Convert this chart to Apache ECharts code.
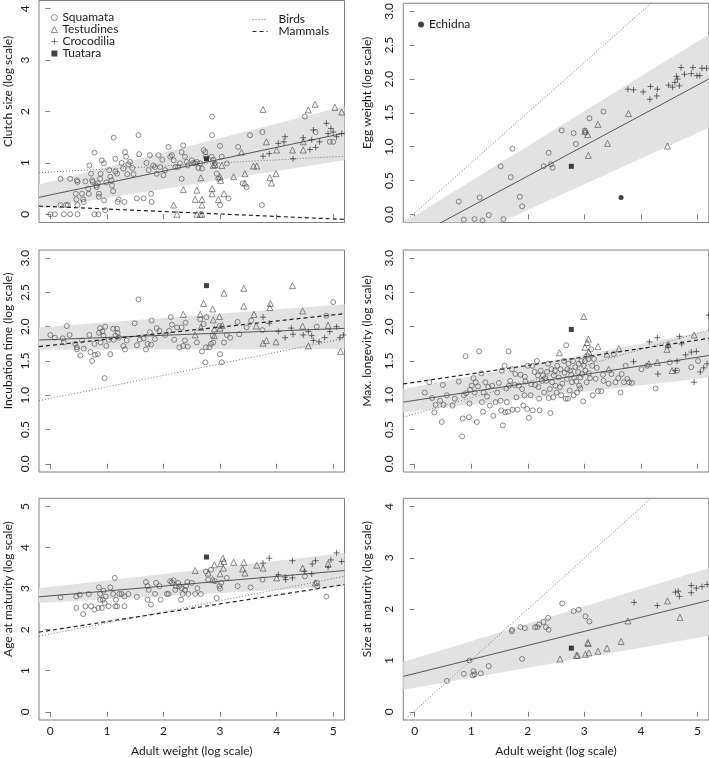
<!DOCTYPE html>
<html>
<head>
<meta charset="utf-8">
<script src="https://cdn.jsdelivr.net/npm/echarts@6/dist/echarts.min.js"></script>
<style>
  html, body { margin: 0; padding: 0; background: #fff; }
  #chart { width: 709px; height: 758px; }
</style>
</head>
<body>
<div id="chart"></div>
<script>
// shared x axis (adult weight, log scale)
const xRange = [-0.2, 5.2];
const xTicks = [0, 1, 2, 3, 4, 5];

// ---- Clutch size ----
const clutchSquamata = [
  [0.0,0.0],[0.08,0.0],[0.18,0.69],[0.18,0.18],[0.24,0.0],[0.28,0.18],[0.31,0.18],[0.35,0.69],[0.35,0.0],
  [0.45,0.40],[0.46,0.29],[0.47,0.66],[0.48,0.63],[0.48,0.18],[0.48,0.0],[0.56,0.40],[0.58,0.29],[0.59,0.24],
  [0.67,0.50],[0.68,0.40],[0.69,0.95],[0.72,0.79],[0.74,0.66],[0.75,0.63],[0.78,1.20],[0.78,0.0],[0.85,0.0],
  [0.81,0.56],[0.82,0.53],[0.84,0.60],[0.86,0.40],[0.86,0.34],[0.88,0.69],[0.89,0.79],[0.91,1.05],[0.95,0.99],
  [0.95,0.27],[0.97,0.08],[1.04,0.86],[1.06,0.73],[1.08,0.66],[1.09,0.56],[1.11,0.45],[1.12,1.49],[1.15,1.08],
  [1.18,0.79],[1.19,0.24],[1.21,0.29],[1.29,0.89],[1.32,1.21],[1.34,1.12],[1.38,0.97],[1.41,1.02],[1.31,0.24],
  [1.26,1.00],[1.36,0.78],[1.45,0.90],[1.53,0.31],[1.56,1.54],[1.57,1.17],[1.65,0.31],[1.74,0.86],[1.76,1.15],
  [1.78,0.40],[1.79,0.24],[1.82,0.95],[1.85,0.92],[1.88,0.79],[1.91,1.15],[1.94,0.92],[2.0,0.76],[2.03,0.86],
  [1.70,1.00],[1.98,1.06],[2.09,1.31],[2.12,1.12],[2.15,1.15],[2.18,1.05],[2.21,0.92],[2.26,0.92],[2.29,0.99],
  [2.32,1.21],[2.35,1.34],[2.38,1.12],[2.41,1.02],[2.32,0.69],[2.50,1.05],[2.53,1.00],[2.56,0.99],[2.59,1.02],
  [2.65,0.99],[2.68,0.89],[2.71,1.25],[2.74,1.21],[2.75,1.12],[2.86,1.90],[2.86,1.54],[2.85,1.12],[2.88,1.06],
  [2.91,0.99],[2.94,0.79],[2.97,0.69],[3.0,1.33],[3.03,1.12],[3.0,0.18],[3.12,0.99],[3.15,0.31],[3.32,1.31],
  [3.47,0.53],[3.53,1.54],[3.75,1.60],[3.74,0.18],[4.50,1.90],[4.69,1.60],[4.94,1.41],[5.0,1.41],
  [0.62,0.64],[0.99,0.62],[1.15,0.83],[1.47,0.78],[2.43,0.95],[2.62,0.90],[3.40,0.60]
];
const clutchTestudines = [
  [2.18,0.18],[2.24,0.0],[2.35,0.48],[2.56,0.29],[2.59,0.47],[2.59,0.0],[2.66,0.71],[2.68,0.18],[2.68,0.29],
  [2.65,0.0],[2.68,0.0],[2.86,0.50],[2.86,0.40],[2.88,0.95],[2.91,0.97],[2.97,0.29],[3.0,0.73],[3.01,0.66],
  [3.07,0.40],[3.03,0.95],[3.24,0.73],[3.38,1.21],[3.44,0.79],[3.44,0.61],[3.59,0.94],[3.65,0.94],[3.76,2.04],
  [3.82,1.41],[3.88,0.71],[3.91,0.61],[3.99,0.79],[4.0,1.25],[4.28,1.25],[4.47,1.25],[4.47,1.41],[4.56,2.03],
  [4.68,2.14],[5.03,2.08],[5.15,1.99]
];
const clutchCrocodilia = [
  [3.76,1.13],[3.87,1.18],[4.03,1.38],[4.15,1.51],[4.13,1.41],[4.29,1.08],[4.47,1.49],[4.62,1.45],[4.59,1.26],
  [4.65,1.64],[4.69,1.30],[4.76,1.41],[4.88,1.77],[4.91,1.57],[4.96,1.67],[5.0,1.60],[5.06,1.51],[5.15,1.57]
];
const clutchTuatara = [[2.76,1.08]];
const clutchFit = [0.33, 1.58];          // y at xRange ends
const clutchBandLow = [0.11, 1.05];
const clutchBandHigh = [0.58, 2.10];
const clutchBirds = [0.81, 1.13];
const clutchMammals = [0.16, -0.10];

// ---- Egg weight ----
const eggSquamata = [
  [0.78,0.19],[0.87,-0.08],[1.06,-0.07],[1.15,0.25],[1.20,-0.09],[1.31,-0.01],[1.52,0.71],[1.57,-0.07],
  [1.70,0.55],[1.73,0.97],[1.86,0.26],[1.90,0.12],[2.28,0.71],[2.37,0.91],[2.41,0.74],[2.44,0.69],[2.60,1.24],
  [2.81,1.20],[2.85,1.04],[3.01,1.24],[3.02,1.21],[3.09,1.42],[3.34,1.52]
];
const eggTestudines = [[3.01,1.23],[3.06,1.18],[3.07,0.87],[3.24,1.33],[3.41,1.05],[3.78,1.49],[4.47,1.01]];
const eggCrocodilia = [
  [3.77,1.85],[3.87,1.84],[4.04,1.81],[4.17,1.89],[4.16,1.70],[4.29,1.85],[4.28,1.75],[4.49,1.91],[4.56,1.88],
  [4.60,1.95],[4.63,2.04],[4.65,2.00],[4.68,1.90],[4.71,2.17],[4.77,2.07],[4.89,2.08],[4.92,2.17],[4.99,2.05],
  [5.04,2.05],[5.08,2.16],[5.16,2.16]
];
const eggTuatara = [[2.77,0.71]];
const eggEchidna = [[3.65,0.25]];
const eggFit = [-0.42, 2.0];
const eggBandLow = [-0.77, 1.28];
const eggBandHigh = [-0.125, 2.66];
const eggBirds = [-0.13, 3.88];

// ---- Incubation time ----
const incubSquamata = [
  [0.0,1.88],[0.08,1.84],[0.22,1.83],[0.24,1.77],[0.29,2.01],[0.34,1.88],[0.44,1.75],[0.47,1.70],[0.47,1.67],
  [0.53,1.58],[0.56,1.80],[0.59,1.68],[0.69,1.88],[0.71,1.63],[0.74,1.50],[0.78,1.75],[0.79,1.59],[0.84,1.60],
  [0.86,1.91],[0.88,1.98],[0.89,1.77],[0.92,1.93],[0.94,1.87],[0.96,1.25],[0.97,2.0],[0.99,1.72],[1.03,1.81],
  [1.06,1.60],[1.11,1.97],[1.12,1.81],[1.15,1.87],[1.18,1.97],[1.19,1.91],[1.21,1.84],[1.29,1.72],[1.32,1.67],
  [1.35,1.80],[1.49,2.05],[1.53,1.73],[1.56,2.40],[1.58,1.81],[1.65,1.83],[1.69,1.67],[1.72,1.75],[1.76,1.92],
  [1.78,1.74],[1.79,2.09],[1.85,1.82],[1.88,1.98],[1.93,1.94],[2.03,1.88],[2.10,1.94],[2.13,2.14],[2.15,2.03],
  [2.19,1.81],[2.24,1.99],[2.28,1.70],[2.32,1.99],[2.35,1.72],[2.38,1.80],[2.39,2.06],[2.43,1.71],[2.59,1.77],
  [2.65,2.11],[2.68,1.64],[2.71,2.04],[2.74,1.48],[2.75,1.70],[2.76,2.14],[2.81,1.70],[2.84,1.75],[2.87,1.87],
  [2.88,1.77],[2.99,2.01],[3.0,1.60],[3.03,1.48],[3.07,1.77],[3.12,1.88],[3.18,1.84],[3.31,2.07],[3.34,1.89],
  [3.47,1.99],[3.55,2.09],[3.75,1.95],[4.71,2.0],[4.88,2.16],[5.0,2.36]
];
const incubTestudines = [
  [2.35,2.18],[2.56,1.88],[2.65,2.18],[2.66,1.99],[2.71,2.34],[2.87,2.26],[2.88,2.10],[2.90,1.97],[2.90,1.87],
  [2.99,2.15],[3.0,1.98],[3.04,2.02],[3.07,2.49],[3.42,2.56],[3.42,2.30],[3.60,2.18],[3.64,2.01],[3.76,1.76],
  [3.82,1.80],[3.88,2.28],[3.89,2.34],[3.99,1.78],[4.28,2.60],[4.46,2.23],[4.46,2.01],[4.56,1.72],[4.91,2.02],
  [5.13,1.64]
];
const incubCrocodilia = [
  [3.76,2.14],[3.87,2.05],[4.03,1.93],[4.15,1.84],[4.26,1.98],[4.29,1.89],[4.47,1.88],[4.56,1.93],[4.62,1.87],
  [4.65,1.80],[4.75,1.78],[4.85,1.84],[4.94,1.93],[5.06,2.0],[5.12,1.84],[5.18,1.88]
];
const incubTuatara = [[2.76,2.60]];
const incubFit = [1.806, 1.976];
const incubBandLow = [1.665, 1.675];
const incubBandHigh = [1.99, 2.33];
const incubBirds = [0.92, 1.83];
const incubMammals = [1.71, 2.19];

// ---- Max. longevity ----
const longSquamata = [
  [0.18,1.04],[0.26,1.19],[0.31,0.96],[0.35,0.75],[0.37,0.86],[0.45,0.92],[0.48,0.61],[0.50,1.15],[0.51,0.86],
  [0.57,1.00],[0.67,0.85],[0.71,0.95],[0.78,1.20],[0.84,0.40],[0.85,0.66],[0.87,1.00],[0.90,1.57],[0.91,1.03],
  [0.96,0.68],[0.97,0.88],[0.98,1.08],[1.01,1.14],[1.04,1.25],[1.06,1.04],[1.08,1.19],[1.10,0.61],[1.12,1.13],
  [1.14,1.64],[1.18,1.32],[1.19,0.90],[1.21,0.76],[1.22,1.04],[1.25,1.19],[1.30,1.12],[1.33,0.85],[1.37,1.14],
  [1.39,0.70],[1.43,0.90],[1.46,1.04],[1.49,1.18],[1.52,0.92],[1.53,0.78],[1.54,1.36],[1.56,0.56],[1.59,1.43],
  [1.60,0.75],[1.63,0.90],[1.65,0.76],[1.66,1.64],[1.67,1.14],[1.69,1.21],[1.72,1.38],[1.73,0.79],[1.77,1.15],
  [1.78,1.31],[1.80,0.97],[1.82,0.79],[1.84,1.14],[1.87,1.30],[1.90,1.09],[1.92,0.85],[1.94,1.00],[1.96,1.20],
  [1.99,0.80],[2.00,1.43],[2.02,0.67],[2.05,1.00],[2.06,1.16],[2.08,1.43],[2.09,0.78],[2.12,1.34],[2.13,1.15],
  [2.16,1.50],[2.18,1.29],[2.19,1.12],[2.21,0.78],[2.23,1.36],[2.25,1.21],[2.27,1.29],[2.29,1.04],[2.31,1.25],
  [2.33,1.21],[2.34,1.34],[2.36,1.46],[2.37,0.96],[2.39,1.09],[2.40,0.74],[2.42,1.38],[2.43,1.19],[2.45,0.97],
  [2.46,1.29],[2.48,1.36],[2.49,1.14],[2.51,1.04],[2.52,1.43],[2.55,1.26],[2.58,1.38],[2.59,1.00],[2.61,1.17],
  [2.64,1.50],[2.65,1.33],[2.67,0.95],[2.68,1.73],[2.69,1.24],[2.71,0.95],[2.72,1.46],[2.74,1.07],[2.75,1.36],
  [2.77,1.30],[2.78,1.19],[2.80,1.50],[2.81,1.00],[2.82,1.26],[2.84,1.41],[2.86,1.20],[2.87,1.04],[2.89,1.34],
  [2.90,1.46],[2.91,1.14],[2.93,1.26],[2.95,1.50],[2.96,1.31],[2.98,0.91],[2.99,1.43],[3.01,1.50],[3.02,1.36],
  [3.04,1.19],[3.05,1.58],[3.07,1.53],[3.08,1.32],[3.10,1.25],[3.12,1.67],[3.14,1.43],[3.15,1.0],[3.17,1.53],
  [3.20,1.24],[3.24,1.06],[3.30,1.06],[3.33,1.30],[3.34,1.21],[3.43,1.17],[3.48,1.31],[3.52,1.60],[3.55,1.19],
  [3.60,1.25],[3.64,1.04],[3.66,1.31],[3.70,1.19],[3.73,1.43],[3.76,1.24],[3.79,1.19],[3.84,1.18],[4.01,1.38],
  [4.11,1.43],[4.26,1.10],[4.51,1.48],[4.64,1.36],[4.89,1.41],[5.01,1.50],
  [1.28,0.98],[1.62,1.10],[1.95,1.27],[2.20,0.95],[2.57,1.12],[2.70,1.38],[2.93,1.10],[3.22,1.40]
];
const longTestudines = [
  [2.56,1.62],[2.99,2.15],[3.01,1.70],[3.05,1.77],[3.07,1.82],[3.08,1.63],[3.24,1.71],[3.40,1.60],[3.43,1.38],
  [3.61,1.68],[4.14,1.46],[4.29,1.48],[4.46,1.67],[4.48,1.74],[4.55,1.36],[4.94,1.88]
];
const longCrocodilia = [
  [3.87,1.49],[4.15,1.78],[4.29,1.84],[4.30,1.31],[4.48,1.72],[4.61,1.36],[4.64,1.50],[4.68,1.86],[4.72,1.75],
  [4.79,1.59],[4.89,1.63],[4.94,1.19],[4.98,1.64],[5.05,1.34],[5.11,1.40],[5.17,1.46],[5.20,2.17]
];
const longTuatara = [[2.77,1.96]];
const longFit = [0.90, 1.58];
const longBandLow = [0.75, 1.26];
const longBandHigh = [1.09, 1.94];
const longBirds = [0.68, 1.95];
const longMammals = [1.165, 1.83];

// ---- Age at maturity ----
const ageSquamata = [
  [0.18,2.79],[0.46,2.53],[0.46,2.81],[0.52,2.85],[0.58,2.38],[0.62,2.57],[0.68,2.87],[0.72,2.57],[0.78,2.49],
  [0.85,2.53],[0.86,3.03],[0.88,2.87],[0.88,2.73],[0.91,2.53],[0.93,2.73],[0.94,2.95],[0.96,2.65],[0.98,2.81],
  [1.03,2.57],[1.06,3.03],[1.11,2.87],[1.14,3.26],[1.15,2.57],[1.16,2.73],[1.18,2.57],[1.22,2.87],[1.26,2.87],
  [1.31,2.81],[1.31,2.57],[1.38,2.87],[1.53,2.80],[1.69,3.16],[1.72,3.06],[1.72,2.73],[1.74,2.97],[1.78,2.61],
  [1.85,2.87],[1.87,3.14],[1.93,3.06],[1.95,2.73],[2.06,2.87],[2.09,2.87],[2.12,3.18],[2.15,3.15],[2.18,3.20],
  [2.21,2.97],[2.22,3.06],[2.26,3.14],[2.28,3.06],[2.31,2.73],[2.32,3.01],[2.34,2.87],[2.38,2.97],[2.40,3.06],
  [2.42,3.16],[2.44,2.87],[2.50,3.14],[2.56,2.87],[2.60,3.01],[2.66,2.87],[2.75,3.42],[2.79,3.22],[2.84,3.46],
  [2.91,3.18],[2.94,2.77],[2.99,3.06],[3.0,3.0],[3.02,3.14],[3.12,3.26],[3.31,3.06],[3.54,3.03],[3.75,3.22],
  [4.50,3.30],[4.71,3.14],[4.72,3.06],[4.88,2.81]
];
const ageTestudines = [
  [2.56,3.44],[2.79,3.38],[2.87,3.22],[2.90,3.58],[3.0,3.36],[3.01,3.61],[3.05,3.74],[3.06,3.50],[3.07,3.66],
  [3.24,3.64],[3.40,3.48],[3.42,3.64],[3.44,3.38],[3.65,3.57],[3.76,3.50],[4.0,3.26],[4.46,3.50],[4.68,3.14],
  [4.91,3.61]
];
const ageCrocodilia = [
  [3.76,3.62],[3.87,3.74],[4.03,3.34],[4.15,3.28],[4.16,3.22],[4.28,3.68],[4.28,3.26],[4.49,3.42],[4.62,3.36],
  [4.63,3.60],[4.69,3.68],[4.91,3.52],[4.96,3.70],[5.06,3.87],[5.15,3.66]
];
const ageTuatara = [[2.76,3.77]];
const ageFit = [2.80, 3.44];
const ageBandLow = [2.65, 3.06];
const ageBandHigh = [3.01, 3.87];
const ageBirds = [1.84, 3.30];
const ageMammals = [1.94, 3.10];

// ---- Size at maturity ----
const sizeSquamata = [
  [0.57,0.60],[0.87,0.74],[0.97,1.00],[1.03,0.71],[1.04,0.79],[1.06,0.73],[1.17,0.75],[1.31,0.89],[1.72,1.60],
  [1.72,1.57],[1.87,1.65],[1.90,1.03],[1.95,1.63],[2.13,1.65],[2.17,1.65],[2.20,1.70],[2.28,1.75],[2.32,1.65],
  [2.36,1.83],[2.37,1.60],[2.61,2.11],[2.81,1.96],[2.90,1.99],[3.02,1.86],[3.09,1.76]
];
const sizeTestudines = [
  [2.57,1.03],[2.86,1.10],[2.88,1.10],[3.02,1.12],[3.06,1.35],[3.07,1.33],[3.08,1.15],[3.24,1.18],[3.40,1.24],
  [3.65,1.37],[3.77,1.77],[4.47,2.16],[4.69,1.84]
];
const sizeCrocodilia = [
  [3.88,2.13],[4.29,2.07],[4.61,2.33],[4.66,2.35],[4.68,2.25],[4.89,2.46],[4.89,2.32],[4.98,2.41],[5.08,2.44],
  [5.17,2.48]
];
const sizeTuatara = [[2.77,1.24]];
const sizeFit = [0.69, 2.17];
const sizeBandLow = [0.43, 1.48];
const sizeBandHigh = [0.97, 2.80];
const sizeBirds = [-0.18, 5.17];

const yTicks4 = [0, 1, 2, 3, 4];
const yTicks3 = [0, 0.5, 1, 1.5, 2, 2.5, 3];
const yTicks5 = [0, 1, 2, 3, 4, 5];

const panels = [
  { label: 'Clutch size (log scale)', yMin: -0.16, yMax: 4.16, ticks: yTicks4, digits: 0,
    squamata: clutchSquamata, testudines: clutchTestudines, crocodilia: clutchCrocodilia, tuatara: clutchTuatara,
    fit: clutchFit, low: clutchBandLow, high: clutchBandHigh, birds: clutchBirds, mammals: clutchMammals },
  { label: 'Egg weight (log scale)', yMin: -0.12, yMax: 3.12, ticks: yTicks3, digits: 1,
    squamata: eggSquamata, testudines: eggTestudines, crocodilia: eggCrocodilia, tuatara: eggTuatara,
    echidna: eggEchidna, fit: eggFit, low: eggBandLow, high: eggBandHigh, birds: eggBirds },
  { label: 'Incubation time (log scale)', yMin: -0.12, yMax: 3.12, ticks: yTicks3, digits: 1,
    squamata: incubSquamata, testudines: incubTestudines, crocodilia: incubCrocodilia, tuatara: incubTuatara,
    fit: incubFit, low: incubBandLow, high: incubBandHigh, birds: incubBirds, mammals: incubMammals },
  { label: 'Max. longevity (log scale)', yMin: -0.12, yMax: 3.12, ticks: yTicks3, digits: 1,
    squamata: longSquamata, testudines: longTestudines, crocodilia: longCrocodilia, tuatara: longTuatara,
    fit: longFit, low: longBandLow, high: longBandHigh, birds: longBirds, mammals: longMammals },
  { label: 'Age at maturity (log scale)', yMin: -0.2, yMax: 5.2, ticks: yTicks5, digits: 0,
    squamata: ageSquamata, testudines: ageTestudines, crocodilia: ageCrocodilia, tuatara: ageTuatara,
    fit: ageFit, low: ageBandLow, high: ageBandHigh, birds: ageBirds, mammals: ageMammals },
  { label: 'Size at maturity (log scale)', yMin: -0.16, yMax: 4.16, ticks: yTicks4, digits: 0,
    squamata: sizeSquamata, testudines: sizeTestudines, crocodilia: sizeCrocodilia, tuatara: sizeTuatara,
    fit: sizeFit, low: sizeBandLow, high: sizeBandHigh, birds: sizeBirds }
];

// layout: [left, top] of each plot box
const boxes = [[39, 0.5], [403.3, 0.5], [39, 250], [403.3, 250], [39, 498.3], [403.3, 498.3]];
const boxW = 305.5, boxH = 222;

const FONT = 'Lato, "DejaVu Sans", sans-serif';
const TXT = '#1a1a1a';
const PT = '#4a4a4a';
const plusPath = 'path://M5,0L5,10M0,5L10,5';
const birdsStyle = { color: '#777', width: 1, type: [1, 2] };
const mammalsStyle = { color: '#222', width: 1.2, type: [4, 3] };

const grids = [], xAxes = [], yAxes = [], series = [];

const ends = vals => [[xRange[0], vals[0]], [xRange[1], vals[1]]];

panels.forEach((p, i) => {
  const [l, t] = boxes[i];
  const bottomRow = i >= 4;
  grids.push({ left: l, top: t, width: boxW, height: boxH, show: true,
    borderColor: '#808080', borderWidth: 1, backgroundColor: 'transparent' });
  xAxes.push({
    gridIndex: i, type: 'value', min: xRange[0], max: xRange[1],
    axisLine: { show: false }, splitLine: { show: false },
    axisTick: { show: true, length: 5, customValues: xTicks, lineStyle: { color: '#808080' } },
    axisLabel: { show: bottomRow, customValues: xTicks, margin: 5, fontSize: 12, color: TXT, fontFamily: FONT },
    name: bottomRow ? 'Adult weight (log scale)' : '', nameLocation: 'middle', nameGap: 25,
    nameTextStyle: { fontSize: 12, color: TXT, fontFamily: FONT }
  });
  yAxes.push({
    gridIndex: i, type: 'value', min: p.yMin, max: p.yMax,
    axisLine: { show: false }, splitLine: { show: false },
    axisTick: { show: true, length: 5, customValues: p.ticks, lineStyle: { color: '#808080' } },
    axisLabel: { customValues: p.ticks, rotate: 90, margin: 8, fontSize: 12, color: TXT, fontFamily: FONT,
      formatter: v => Number(v).toFixed(p.digits) },
    name: p.label, nameLocation: 'middle', nameGap: i % 2 ? 30 : 25,
    nameTextStyle: { fontSize: 12, color: TXT, fontFamily: FONT, padding: [0, 0, 0, 40] }
  });

  const ax = { xAxisIndex: i, yAxisIndex: i };

  // prediction band
  const bandPts = [[xRange[0], p.low[0]], [xRange[1], p.low[1]], [xRange[1], p.high[1]], [xRange[0], p.high[0]]];
  series.push({
    type: 'custom', ...ax, silent: true, clip: true, z: 1,
    data: bandPts,
    encode: { x: 0, y: 1 },
    renderItem: (params, api) => {
      if (params.dataIndex !== 0) return;
      return { type: 'polygon', shape: { points: bandPts.map(d => api.coord(d)) },
        style: { fill: '#e2e2e2' } };
    }
  });

  const line = (name, vals, style) => ({
    type: 'line', name, ...ax, data: ends(vals), symbol: 'none', showSymbol: false,
    clip: true, silent: true, z: 2, lineStyle: style, itemStyle: { color: style.color }
  });
  series.push(line('', p.fit, { color: '#555', width: 1 }));
  if (p.birds) series.push(line('Birds', p.birds, birdsStyle));
  if (p.mammals) series.push(line('Mammals', p.mammals, mammalsStyle));

  const scat = (name, data, symbol, size, style) => ({
    type: 'scatter', name, ...ax, data, symbol, symbolSize: size, z: 3, silent: true, itemStyle: style
  });
  series.push(scat('Squamata', p.squamata, 'circle', 5,
    { color: 'rgba(0,0,0,0)', borderColor: PT, borderWidth: 0.8 }));
  series.push(scat('Testudines', p.testudines, 'triangle', 6,
    { color: 'rgba(0,0,0,0)', borderColor: PT, borderWidth: 0.8 }));
  series.push(scat('Crocodilia', p.crocodilia, plusPath, 6,
    { color: 'rgba(0,0,0,0)', borderColor: '#333', borderWidth: 0.9 }));
  series.push(scat('Tuatara', p.tuatara, 'rect', 5, { color: '#111' }));
  if (p.echidna) series.push(scat('Echidna', p.echidna, 'circle', 5, { color: '#111' }));
});

const legendText = { fontSize: 12, color: TXT, fontFamily: FONT, lineHeight: 11.5 };

const chart = echarts.init(document.getElementById('chart'));
chart.setOption({
  animation: false,
  backgroundColor: '#fff',
  grid: grids,
  xAxis: xAxes,
  yAxis: yAxes,
  legend: [
    { data: ['Squamata', 'Testudines', 'Crocodilia', 'Tuatara'], orient: 'vertical', left: 51, top: 11.5,
      itemWidth: 6, itemHeight: 6, itemGap: 0, padding: 0, selectedMode: false,
      itemStyle: { borderWidth: 0.8 }, textStyle: legendText },
    { data: ['Birds', 'Mammals'], orient: 'vertical', left: 252, top: 13.5,
      itemWidth: 15, itemHeight: 7, itemGap: 0, padding: 0, selectedMode: false,
      itemStyle: { opacity: 0, borderWidth: 0 }, lineStyle: { width: 1 },
      textStyle: Object.assign({ padding: [0, 0, 0, 6] }, legendText) },
    { data: ['Echidna'], orient: 'vertical', left: 418, top: 18.5,
      itemWidth: 6, itemHeight: 6, itemGap: 0, padding: 0, selectedMode: false, textStyle: legendText }
  ],
  series
});
</script>
</body>
</html>
